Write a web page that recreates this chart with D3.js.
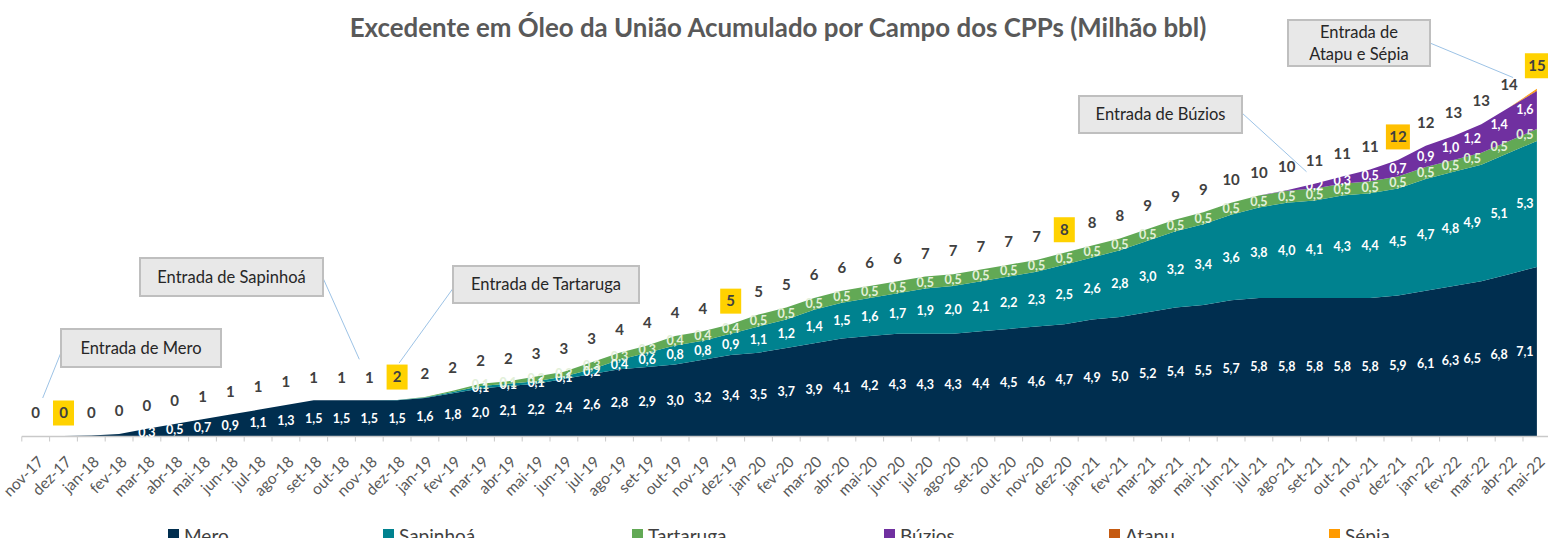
<!DOCTYPE html>
<html>
<head>
<meta charset="utf-8">
<script src="https://cdn.jsdelivr.net/npm/d3@7"></script>
<style>
  body { margin: 0; background: #fff; }
  svg { display: block; font-family: Lato, "Open Sans", sans-serif; }
</style>
</head>
<body>
<svg id="chart"></svg>
<script>
// meses (eixo de categorias)
const months = [
  "nov-17","dez-17",
  "jan-18","fev-18","mar-18","abr-18","mai-18","jun-18","jul-18","ago-18","set-18","out-18","nov-18","dez-18",
  "jan-19","fev-19","mar-19","abr-19","mai-19","jun-19","jul-19","ago-19","set-19","out-19","nov-19","dez-19",
  "jan-20","fev-20","mar-20","abr-20","mai-20","jun-20","jul-20","ago-20","set-20","out-20","nov-20","dez-20",
  "jan-21","fev-21","mar-21","abr-21","mai-21","jun-21","jul-21","ago-21","set-21","out-21","nov-21","dez-21",
  "jan-22","fev-22","mar-22","abr-22","mai-22"
];

// excedente acumulado por campo (milhão bbl)
const mero = [0,0,
  0.02,0.08,0.3,0.5,0.7,0.9,1.1,1.3,1.5,1.5,1.5,1.5,
  1.6,1.8,2.0,2.1,2.2,2.4,2.6,2.8,2.9,3.0,3.2,3.4,
  3.5,3.7,3.9,4.1,4.2,4.3,4.3,4.3,4.4,4.5,4.6,4.7,
  4.9,5.0,5.2,5.4,5.5,5.7,5.8,5.8,5.8,5.8,5.8,5.9,
  6.1,6.3,6.5,6.8,7.1];
const sapinhoa = [0,0,
  0,0,0,0,0,0,0,0,0,0,0,0.01,
  0.02,0.05,0.1,0.1,0.1,0.1,0.2,0.4,0.6,0.8,0.8,0.9,
  1.1,1.2,1.4,1.5,1.6,1.7,1.9,2.0,2.1,2.2,2.3,2.5,
  2.6,2.8,3.0,3.2,3.4,3.6,3.8,4.0,4.1,4.3,4.4,4.5,
  4.7,4.8,4.9,5.1,5.3];
const tartaruga = [0,0,
  0,0,0,0,0,0,0,0,0,0,0,0,
  0.02,0.05,0.1,0.1,0.2,0.2,0.3,0.3,0.3,0.4,0.4,0.4,
  0.5,0.5,0.5,0.5,0.5,0.5,0.5,0.5,0.5,0.5,0.5,0.5,
  0.5,0.5,0.5,0.5,0.5,0.5,0.5,0.5,0.5,0.5,0.5,0.5,
  0.5,0.5,0.5,0.5,0.5];
const buzios = [0,0,
  0,0,0,0,0,0,0,0,0,0,0,0,
  0,0,0,0,0,0,0,0,0,0,0,0,
  0,0,0,0,0,0,0,0,0,0,0,0,
  0,0,0,0,0,0,0,0.03,0.2,0.3,0.5,0.7,
  0.9,1.0,1.2,1.4,1.6];
const atapu = new Array(54).fill(0).concat([0.03]);
const sepia = new Array(54).fill(0).concat([0.06]);

// rótulos do total (arredondados, como no gráfico)
const totalLabels = [0,0,
  0,0,0,0,1,1,1,1,1,1,1,2,
  2,2,2,2,3,3,3,4,4,4,4,5,
  5,5,6,6,6,6,7,7,7,7,7,8,
  8,8,9,9,9,10,10,10,11,11,11,12,
  12,13,13,14,15];
const highlightMonths = ["dez-17","dez-18","dez-19","dez-20","dez-21","mai-22"];

const seriesNames = ["Mero","Sapinhoá","Tartaruga","Búzios","Atapu","Sépia"];
const seriesValues = [mero, sapinhoa, tartaruga, buzios, atapu, sepia];
const seriesColors = ["#002E4F","#00828F","#62A955","#7030A0","#C55A11","#FF9A00"];
const labelColors = ["#FFFFFF","#FFFFFF","#E2F0D9","#FFFFFF",null,null];

// rótulos do fim da série ficam um pouco puxados para a esquerda
const labelShift = { "fev-22": -3, "mar-22": -9, "abr-22": -10, "mai-22": -12 };

// caixas "Entrada de ..."
const callouts = [
  { lines: ["Entrada de Mero"], month: "nov-17", box: [61,329,160,38], from: [62,350], dx: 7, dy: -15 },
  { lines: ["Entrada de Sapinhoá"], month: "nov-18", box: [140,258,183,38], from: [323,278], dx: -10, dy: -18 },
  { lines: ["Entrada de Tartaruga"], month: "dez-18", box: [453,266,186,37], from: [454,287], dx: 2, dy: -14 },
  { lines: ["Entrada de Búzios"], month: "set-21", box: [1079,96,163,37], from: [1242,113], dx: -8, dy: 11 },
  { lines: ["Entrada de", "Atapu e Sépia"], month: "abr-22", box: [1288,20,142,46], from: [1430,43], dx: 4, dy: -7 }
];

const width = 1548, height = 538;
const svg = d3.select("#chart").attr("width", width).attr("height", height);

const x = d3.scaleBand().domain(months).range([21.8, 21.8 + months.length * 27.8]);
const cx = m => x(m) + x.bandwidth() / 2;
const y = d3.scaleLinear().domain([0, 16]).range([436, 436 - 16 * 23.8]);

const rows = months.map((m, i) => {
  const r = { month: m };
  seriesNames.forEach((s, k) => { r[s] = seriesValues[k][i]; });
  return r;
});
const stacked = d3.stack().keys(seriesNames)(rows);

const area = d3.area()
  .x(d => cx(d.data.month))
  .y0(d => y(d[0]))
  .y1(d => y(d[1]));

svg.append("g").selectAll("path")
  .data(stacked)
  .enter().append("path")
  .attr("d", area)
  .attr("fill", (d, i) => seriesColors[i]);

// eixo x
const axisY = 436.5;
const axisG = svg.append("g");
axisG.append("line")
  .attr("x1", x.range()[0]).attr("x2", width)
  .attr("y1", axisY).attr("y2", axisY)
  .attr("stroke", "#C9C9C9").attr("stroke-width", 1.5);
axisG.selectAll(".tick")
  .data(months)
  .enter().append("line")
  .attr("x1", d => x(d)).attr("x2", d => x(d))
  .attr("y1", axisY).attr("y2", axisY + 5)
  .attr("stroke", "#C9C9C9").attr("stroke-width", 1);
axisG.selectAll(".lbl")
  .data(months)
  .enter().append("text")
  .attr("transform", d => `translate(${cx(d) + 5},459) rotate(-45)`)
  .attr("dy", "0.35em")
  .attr("text-anchor", "end")
  .style("font-size", "15.5px")
  .attr("fill", "#595959")
  .text(d => d);

// rótulos de cada campo
const fmt = v => d3.format(".1f")(v).replace(".", ",");
stacked.forEach((layer, k) => {
  if (!labelColors[k]) return;
  svg.append("g").selectAll("text")
    .data(layer.filter(d => (d[1] - d[0]) >= 0.095))
    .enter().append("text")
    .attr("x", d => cx(d.data.month) + (labelShift[d.data.month] || 0))
    .attr("y", d => y((d[0] + d[1]) / 2))
    .attr("dy", "0.35em")
    .attr("text-anchor", "middle")
    .style("font-size", "12.5px")
    .style("font-weight", "bold")
    .attr("fill", labelColors[k])
    .text(d => fmt(d[1] - d[0]));
});

// totais
const topLayer = stacked[stacked.length - 1];
const totG = svg.append("g");
months.forEach((m, i) => {
  const tx = Math.min(cx(m), 1537);
  const ty = y(topLayer[i][1]) - 23;
  if (highlightMonths.includes(m)) {
    const w = String(totalLabels[i]).length > 1 ? 24 : 21;
    totG.append("rect")
      .attr("x", tx - w / 2).attr("y", ty - 12.5)
      .attr("width", w).attr("height", 25)
      .attr("fill", m === "dez-21" ? "#FFC000" : "#FFD200");
  }
  totG.append("text")
    .attr("x", tx).attr("y", ty)
    .attr("dy", "0.35em")
    .attr("text-anchor", "middle")
    .style("font-size", "15px")
    .style("font-weight", "bold")
    .attr("fill", "#404040")
    .text(totalLabels[i]);
});

// caixas de anotação
const calG = svg.append("g");
callouts.forEach(c => {
  const i = months.indexOf(c.month);
  const ex = cx(c.month) + c.dx;
  const ey = y(topLayer[i][1]) - 23 + c.dy;
  calG.append("line")
    .attr("x1", c.from[0]).attr("y1", c.from[1])
    .attr("x2", ex).attr("y2", ey)
    .attr("stroke", "#9DC3E6").attr("stroke-width", 1);
  const [bx, by, bw, bh] = c.box;
  calG.append("rect")
    .attr("x", bx).attr("y", by).attr("width", bw).attr("height", bh)
    .attr("fill", "#E8E8E8").attr("stroke", "#BFBFBF").attr("stroke-width", 2);
  const lh = 22;
  c.lines.forEach((t, j) => {
    calG.append("text")
      .attr("x", bx + bw / 2)
      .attr("y", by + bh / 2 + (j - (c.lines.length - 1) / 2) * lh)
      .attr("dy", "0.35em")
      .attr("text-anchor", "middle")
      .style("font-size", "16.5px")
      .attr("fill", "#262626")
      .text(t);
  });
});

// título
const title = svg.append("text")
  .attr("x", 778).attr("y", 28)
  .attr("dy", "0.35em")
  .attr("text-anchor", "middle")
  .style("font-size", "22px")
  .style("font-weight", "bold")
  .attr("fill", "#595959")
  .text("Excedente em Óleo da União Acumulado por Campo dos CPPs (Milhão bbl)");
const tw = title.node().getComputedTextLength();
title.style("font-size", (22 * 857 / tw).toFixed(2) + "px");

// legenda (cortada na borda inferior, como no original)
const legendX = [168, 383, 632, 884, 1109, 1329];
const legG = svg.append("g");
seriesNames.forEach((s, i) => {
  legG.append("rect")
    .attr("x", legendX[i]).attr("y", 529)
    .attr("width", 11).attr("height", 11)
    .attr("fill", seriesColors[i]);
  legG.append("text")
    .attr("x", legendX[i] + 16).attr("y", 536)
    .attr("dy", "0.35em")
    .style("font-size", "19px")
    .attr("fill", "#404040")
    .text(s);
});
</script>
</body>
</html>
